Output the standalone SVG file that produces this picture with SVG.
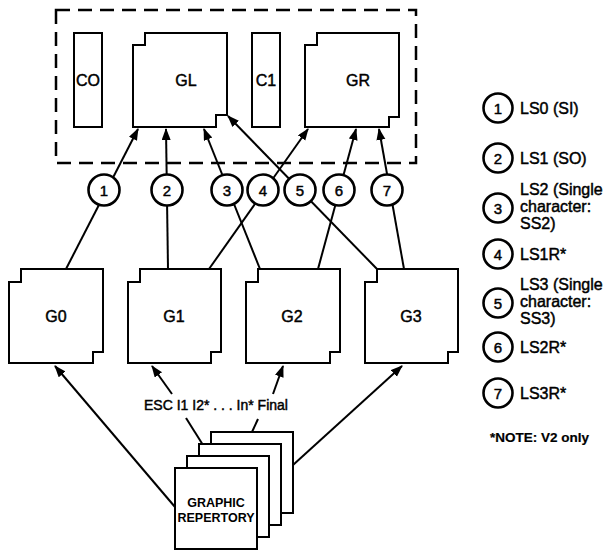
<svg xmlns="http://www.w3.org/2000/svg" width="613" height="555" viewBox="0 0 613 555">
<style>
  .box{fill:#fff;stroke:#000;stroke-width:2}
  .frame{fill:none;stroke:#000;stroke-width:2.5;stroke-dasharray:14 8}
  .ln{fill:none;stroke:#000;stroke-width:2}
  .circ{fill:#fff;stroke:#000;stroke-width:2.6}
  text{font-family:"Liberation Sans",Arial,Helvetica,sans-serif;fill:#000;stroke:#000;stroke-width:0.45}
  .lbl{font-size:16px;text-anchor:middle}
  .num{font-size:15px;text-anchor:middle}
  .leg{font-size:16px}
  .esc{font-size:14px;text-anchor:middle}
  .rep{font-size:12.5px;font-weight:bold;text-anchor:middle;stroke-width:0}
  .note{font-size:13.5px;font-weight:bold;stroke-width:0.2}
</style>
<defs>
  <marker id="ah" markerUnits="userSpaceOnUse" markerWidth="12" markerHeight="10" refX="11" refY="4.5" orient="auto">
    <path d="M0,0 L12,4.5 L0,9 Z" fill="#000"/>
  </marker>
</defs>
<rect class="frame" x="56" y="10" width="360" height="153"/>
<g id="CO"><rect class="box" x="74" y="33" width="28" height="94"/><text class="lbl" x="88" y="86">CO</text></g>
<g id="GL"><path class="box" d="M145,33 H227 V115 H216 V127 H133 V45 H145 Z"/><text class="lbl" x="186" y="86">GL</text></g>
<g id="C1"><rect class="box" x="252" y="33" width="28" height="94"/><text class="lbl" x="266" y="86">C1</text></g>
<g id="GR"><path class="box" d="M317,33 H399 V117 H389 V127 H305 V45 H317 Z"/><text class="lbl" x="358" y="86">GR</text></g>
<g id="connectors">
  <line class="ln" x1="66" y1="269" x2="138" y2="129" marker-end="url(#ah)"/>
  <line class="ln" x1="168" y1="269" x2="166" y2="129" marker-end="url(#ah)"/>
  <line class="ln" x1="260" y1="269" x2="204" y2="129" marker-end="url(#ah)"/>
  <line class="ln" x1="209" y1="269" x2="308" y2="129" marker-end="url(#ah)"/>
  <line class="ln" x1="377" y1="269" x2="228" y2="116" marker-end="url(#ah)"/>
  <line class="ln" x1="318" y1="269" x2="356" y2="129" marker-end="url(#ah)"/>
  <line class="ln" x1="404" y1="269" x2="379" y2="129" marker-end="url(#ah)"/>
  <line class="ln" x1="175" y1="507" x2="55" y2="366" marker-end="url(#ah)"/>
  <line class="ln" x1="203" y1="445" x2="186" y2="418"/>
  <line class="ln" x1="172" y1="394" x2="152" y2="366" marker-end="url(#ah)"/>
  <line class="ln" x1="252" y1="432" x2="258" y2="419"/>
  <line class="ln" x1="273" y1="394" x2="283" y2="366" marker-end="url(#ah)"/>
  <line class="ln" x1="293" y1="465" x2="402" y2="366" marker-end="url(#ah)"/>
</g>
<g id="c1"><circle class="circ" cx="104" cy="190" r="15.5"/><text class="num" x="104" y="195.5">1</text></g>
<g id="c2"><circle class="circ" cx="167" cy="190" r="15.5"/><text class="num" x="167" y="195.5">2</text></g>
<g id="c3"><circle class="circ" cx="227" cy="190" r="15.5"/><text class="num" x="227" y="195.5">3</text></g>
<g id="c4"><circle class="circ" cx="263" cy="190" r="15.5"/><text class="num" x="263" y="195.5">4</text></g>
<g id="c5"><circle class="circ" cx="300" cy="190" r="15.5"/><text class="num" x="300" y="195.5">5</text></g>
<g id="c6"><circle class="circ" cx="339" cy="190" r="15.5"/><text class="num" x="339" y="195.5">6</text></g>
<g id="c7"><circle class="circ" cx="387" cy="190" r="15.5"/><text class="num" x="387" y="195.5">7</text></g>
<g id="G0"><path class="box" d="M21,269 H103 V352 H93 V363 H9 V282 H21 Z"/><text class="lbl" x="56" y="322">G0</text></g>
<g id="G1"><path class="box" d="M140,269 H221 V352 H211 V363 H128 V282 H140 Z"/><text class="lbl" x="174" y="322">G1</text></g>
<g id="G2"><path class="box" d="M258,269 H340 V352 H330 V363 H246 V282 H258 Z"/><text class="lbl" x="292" y="322">G2</text></g>
<g id="G3"><path class="box" d="M377,269 H458 V352 H448 V363 H365 V282 H377 Z"/><text class="lbl" x="411" y="322">G3</text></g>
<text class="esc" x="216" y="410">ESC I1 I2* . . . In* Final</text>
<g id="repertory">
  <rect class="box" x="211" y="432" width="82" height="81"/>
  <rect class="box" x="199" y="444" width="82" height="81"/>
  <rect class="box" x="187" y="456" width="82" height="81"/>
  <rect class="box" x="175" y="468" width="82" height="81"/>
  <text class="rep" x="216" y="507">GRAPHIC</text>
  <text class="rep" x="216" y="522">REPERTORY</text>
</g>
<g id="legend">
  <g id="l1"><circle class="circ" cx="498" cy="108" r="14.5"/><text class="num" x="498" y="113.5">1</text><text class="leg" x="520" y="114">LS0 (SI)</text></g>
  <g id="l2"><circle class="circ" cx="498" cy="158" r="14.5"/><text class="num" x="498" y="163.5">2</text><text class="leg" x="520" y="164">LS1 (SO)</text></g>
  <g id="l3"><circle class="circ" cx="498" cy="208" r="14.5"/><text class="num" x="498" y="213.5">3</text><text class="leg" x="520" y="195">LS2 (Single</text><text class="leg" x="520" y="212">character:</text><text class="leg" x="520" y="229">SS2)</text></g>
  <g id="l4"><circle class="circ" cx="498" cy="254" r="14.5"/><text class="num" x="498" y="259.5">4</text><text class="leg" x="520" y="260">LS1R*</text></g>
  <g id="l5"><circle class="circ" cx="498" cy="303" r="14.5"/><text class="num" x="498" y="308.5">5</text><text class="leg" x="520" y="290">LS3 (Single</text><text class="leg" x="520" y="307">character:</text><text class="leg" x="520" y="324">SS3)</text></g>
  <g id="l6"><circle class="circ" cx="498" cy="347" r="14.5"/><text class="num" x="498" y="352.5">6</text><text class="leg" x="520" y="353">LS2R*</text></g>
  <g id="l7"><circle class="circ" cx="498" cy="393" r="14.5"/><text class="num" x="498" y="398.5">7</text><text class="leg" x="520" y="399">LS3R*</text></g>
  <text class="note" x="490" y="442">*NOTE: V2 only</text>
</g>
</svg>
